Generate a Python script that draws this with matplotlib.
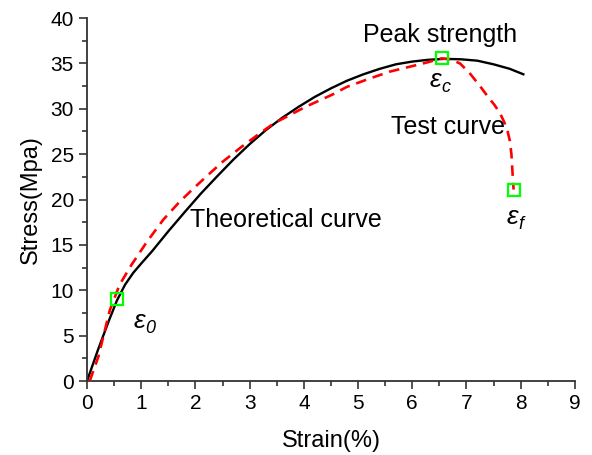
import matplotlib
matplotlib.use("Agg")
import matplotlib.pyplot as plt

plt.rcParams['font.family'] = ['Liberation Sans', 'DejaVu Sans']

# theoretical curve (black, solid)
theory_x = [0, 0.2, 0.4, 0.55, 0.7, 0.85, 1.0, 1.2, 1.5, 1.8, 2.1, 2.4, 2.7, 3.0, 3.3, 3.6,
            3.9, 4.2, 4.5, 4.8, 5.1, 5.4, 5.7, 6.0, 6.3, 6.6, 6.9, 7.2, 7.5, 7.8, 8.05]
theory_y = [0, 3.4, 6.6, 8.85, 10.6, 11.9, 12.95, 14.3, 16.5, 18.6, 20.65, 22.55, 24.4, 26.1,
            27.65, 29.0, 30.2, 31.3, 32.25, 33.1, 33.8, 34.4, 34.9, 35.2, 35.4, 35.5, 35.45,
            35.3, 34.9, 34.4, 33.8]

# test curve (red, dashed)
test_x = [0.05, 0.21, 0.42, 0.6, 0.82, 1.1, 1.41, 1.7, 1.96, 2.25, 2.51, 2.85, 3.19, 3.45,
          3.74, 3.93, 4.1, 4.54, 4.79, 5.2, 5.59, 6.0, 6.27, 6.54, 6.7, 6.88, 7.05, 7.25,
          7.4, 7.52, 7.62, 7.7, 7.76, 7.8, 7.83, 7.85, 7.87]
test_y = [0, 2.7, 7.8, 10.6, 12.8, 15.3, 17.8, 19.7, 21.2, 22.8, 24.2, 25.8, 27.3, 28.4,
          29.3, 29.9, 30.4, 31.6, 32.4, 33.3, 34.1, 34.7, 35.1, 35.55, 35.45, 35.0, 34.0,
          32.5, 31.3, 30.4, 29.5, 28.5, 27.5, 26.5, 25.0, 23.0, 21.1]

# key points: eps_0, eps_c (peak), eps_f
key_x = [0.56, 6.55, 7.87]
key_y = [9.0, 35.6, 21.1]
key_subs = ['0', 'c', 'f']
key_label_pos = [(0.86, 6.6), (6.32, 33.2), (7.74, 18.1)]

fig = plt.figure(figsize=(5.92, 4.55), dpi=100)
ax = fig.add_axes([0.147, 0.1626, 0.824, 0.7978])

ax.plot(theory_x, theory_y, color='black', lw=1.7, zorder=2)
ax.plot(test_x, test_y, color='red', lw=1.9, dashes=(4, 2.6), zorder=3)
ax.plot(key_x, key_y, ls='none', marker='s', ms=8, mfc='none', mec='#00ff00', mew=1.6, zorder=4)

# epsilon labels with italic subscripts
for sub, (lx, ly) in zip(key_subs, key_label_pos):
    ax.text(lx, ly, 'ε', fontsize=19, style='italic', ha='left', va='center')
    ax.annotate(sub, xy=(lx, ly), xytext=(8.5, -5.5), textcoords='offset points',
                fontsize=13, style='italic', ha='left', va='center')

ax.text(6.51, 38.1, 'Peak strength', fontsize=18, ha='center', va='center')
ax.text(6.66, 28.0, 'Test curve', fontsize=18, ha='center', va='center')
ax.text(3.66, 17.7, 'Theoretical curve', fontsize=18, ha='center', va='center')

ax.set_xlim(0, 9)
ax.set_ylim(0, 40)
ax.set_xticks(range(0, 10))
ax.set_yticks(range(0, 41, 5))
ax.set_xticks([i + 0.5 for i in range(9)], minor=True)
ax.set_yticks([i + 2.5 for i in range(0, 40, 5)], minor=True)
ax.tick_params(which='major', direction='out', length=6, width=1.2, labelsize=15, color='#333333')
ax.tick_params(which='minor', direction='out', length=3.5, width=1.2, color='#333333')
for s in ['top', 'right']:
    ax.spines[s].set_visible(False)
for s in ['left', 'bottom']:
    ax.spines[s].set_linewidth(1.3)
    ax.spines[s].set_color('#333333')

ax.set_xlabel('Strain(%)', fontsize=17, labelpad=12)
ax.set_ylabel('Stress(Mpa)', fontsize=17, labelpad=6)

fig.savefig('out.png', dpi=100)
